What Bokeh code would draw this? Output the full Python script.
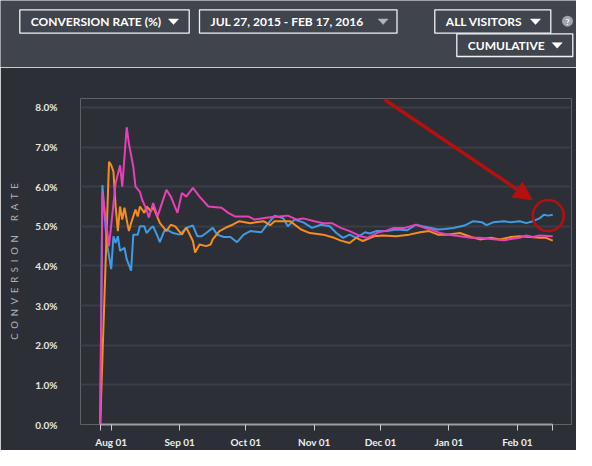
import pandas as pd
from bokeh.plotting import figure
from bokeh.layouts import column
from bokeh.models import Range1d, FixedTicker, Arrow, NormalHead, Plot
from bokeh.core.properties import value
from bokeh.embed import file_html
from bokeh.resources import INLINE

# ---------------- data ----------------
START = "2015-07-27"
END = "2016-02-17"

blue_days = [0, 1, 3, 5, 6, 7, 8, 9, 11, 12, 14, 15, 17, 18, 20, 21, 23, 24, 26, 27, 29, 30,
             33, 36, 39, 42, 44, 46, 48, 51, 53, 56, 59, 62, 65, 68, 73, 75, 79, 83, 85, 88,
             92, 96, 100, 104, 107, 110, 113, 116, 120, 122, 125, 130, 134, 139, 143, 146,
             150, 153, 156, 160, 165, 169, 173, 175, 178, 183, 186, 190, 193, 196, 199, 201,
             203, 205]
blue_vals = [0.0, 6.04, 4.58, 3.92, 4.75, 4.58, 4.75, 4.38, 4.46, 4.17, 3.88, 4.79, 4.79, 5.0,
             5.0, 4.83, 4.96, 5.0, 4.75, 4.6, 4.88, 4.92, 4.83, 4.79, 4.96, 5.02, 4.75, 4.75,
             4.83, 4.96, 4.79, 4.73, 4.73, 4.6, 4.79, 4.88, 4.85, 5.0, 5.27, 5.2, 5.0, 5.17,
             5.1, 4.96, 5.04, 5.0, 4.83, 4.71, 4.79, 4.71, 4.85, 4.82, 4.88, 4.88, 4.92, 4.9,
             5.04, 5.0, 4.96, 4.92, 4.93, 4.96, 5.02, 5.13, 5.1, 5.03, 5.1, 5.13, 5.1, 5.13,
             5.08, 5.13, 5.2, 5.29, 5.27, 5.29]

orange_days = [0, 4, 5, 6, 7, 8, 9, 10, 11, 12, 13, 14, 16, 17, 18, 20, 21, 23, 24, 26, 27,
               30, 32, 34, 37, 39, 42, 43, 45, 48, 50, 51, 54, 57, 60, 63, 68, 74, 77, 79, 86,
               91, 95, 101, 106, 109, 113, 116, 119, 124, 128, 134, 140, 145, 149, 153, 157,
               163, 168, 172, 177, 181, 186, 190, 195, 199, 202, 205]
orange_vals = [0.0, 6.63, 6.54, 6.38, 5.5, 4.88, 5.5, 5.17, 5.47, 5.17, 4.88, 5.08, 5.42, 5.25,
               5.5, 5.34, 5.5, 5.38, 5.5, 5.22, 5.09, 4.88, 5.04, 5.0, 4.79, 4.97, 4.63, 4.34,
               4.54, 4.5, 4.54, 4.67, 4.88, 4.97, 5.04, 5.13, 5.08, 5.13, 5.03, 5.13, 5.13,
               4.92, 4.83, 4.79, 4.71, 4.64, 4.58, 4.71, 4.63, 4.75, 4.77, 4.75, 4.79, 4.85,
               4.88, 4.79, 4.79, 4.83, 4.73, 4.67, 4.71, 4.67, 4.73, 4.75, 4.73, 4.71, 4.71,
               4.64]

pink_days = [0, 1, 4, 7, 9, 10, 12, 13, 15, 16, 18, 19, 21, 22, 24, 26, 27, 30, 32, 35, 37,
             39, 42, 45, 49, 55, 58, 61, 67, 70, 76, 81, 85, 89, 92, 97, 101, 105, 109, 113,
             118, 121, 126, 129, 133, 138, 143, 147, 150, 154, 158, 163, 168, 172, 177, 183,
             186, 190, 193, 196, 199, 205]
pink_vals = [0.0, 5.85, 4.5, 6.09, 6.54, 6.0, 7.5, 7.09, 6.5, 6.0, 5.87, 5.67, 5.42, 5.22,
             5.59, 5.25, 5.42, 5.92, 5.75, 5.34, 5.84, 5.75, 5.97, 5.75, 5.5, 5.47, 5.34, 5.25,
             5.25, 5.17, 5.22, 5.25, 5.27, 5.17, 5.2, 5.13, 5.08, 5.08, 4.96, 4.88, 4.75, 4.71,
             4.85, 4.88, 4.96, 4.96, 5.04, 4.96, 4.92, 4.83, 4.79, 4.75, 4.71, 4.71, 4.68,
             4.65, 4.68, 4.71, 4.77, 4.73, 4.77, 4.75]

x_tick_dates = ["2015-07-27", "2015-08-01", "2015-09-01", "2015-10-01", "2015-11-01",
                "2015-12-01", "2016-01-01", "2016-02-01", "2016-02-17"]
x_tick_labels = ["", "Aug 01", "Sep 01", "Oct 01", "Nov 01", "Dec 01", "Jan 01", "Feb 01", ""]
y_ticks = [0, 1, 2, 3, 4, 5, 6, 7, 8]
y_tick_labels = ["0.0%", "1.0%", "2.0%", "3.0%", "4.0%", "5.0%", "6.0%", "7.0%", "8.0%"]

y_axis_title = "CONVERSION RATE"
btn_labels = ["CONVERSION RATE (%)", "JUL 27, 2015 - FEB 17, 2016", "ALL VISITORS", "CUMULATIVE"]

# ---------------- style ----------------
HEADER_BG = "#40444c"
CHART_BG = "#2c2f36"
GRID = "#3b3e46"
BLUE = "#3f9be4"
ORANGE = "#f68d1f"
PINK = "#e840b6"
RED = "#b3100f"
FONT = "Lato"

start = pd.Timestamp(START)


def to_dates(days):
    return [start + pd.Timedelta(days=d) for d in days]


def ms(ts):
    return float(pd.Timestamp(ts).value // 10**6)


x_tick_ms = [ms(d) for d in x_tick_dates]
HAS_FRAME_ALIGN = "frame_align" in Plot.properties()

# ---------------- header ----------------
h = figure(width=576, height=67, x_range=Range1d(0, 576), y_range=Range1d(67, 0),
           toolbar_location=None, output_backend="svg", title=None,
           x_axis_location=None, y_axis_location=None, min_border=0,
           background_fill_color=HEADER_BG, border_fill_color=HEADER_BG,
           outline_line_color=None)
h.grid.grid_line_color = None

btn_left = [19.3, 199.0, 434.3, 456.3]
btn_right = [188.7, 396.5, 550.3, 572.3]
btn_top = [9.3, 9.3, 9.3, 33.3]
btn_bottom = [32.7, 32.7, 32.7, 56.0]
tri_off = [15.7, 13.9, 15.3, 15.6]
tri_col = ["#ffffff", "#b0b2b6", "#ffffff", "#ffffff"]

h.quad(left=btn_left, right=btn_right, top=btn_top, bottom=btn_bottom,
       fill_color=None, line_color="#f2f2f2", line_width=1.3)
mid = [(t + b) / 2 for t, b in zip(btn_top, btn_bottom)]
h.text(x=[l + 11 for l in btn_left], y=[m + 0.3 for m in mid], text=btn_labels,
       text_font=value(FONT), text_font_style="bold", text_font_size="12px",
       text_color="#ffffff", text_align="left", text_baseline="middle")
tri_x = [[r - o - 5, r - o + 5, r - o] for r, o in zip(btn_right, tri_off)]
tri_y = [[m - 2.5, m - 2.5, m + 3] for m in mid]
h.patches(xs=tri_x, ys=tri_y, fill_color=tri_col, line_color=tri_col, line_width=0.5)
h.scatter(x=[567], y=[20.7], marker="circle", size=11, fill_color="#a0a3a8", line_color=None)
h.text(x=[567], y=[21.0], text=["?"], text_font=value(FONT), text_font_style="bold",
       text_font_size="8px", text_color="#ffffff", text_align="center", text_baseline="middle")

# ---------------- chart ----------------
p = figure(width=576, height=383, x_axis_type="datetime", output_backend="svg",
           toolbar_location=None, title=None,
           x_range=Range1d(start - pd.Timedelta(days=8.92), start + pd.Timedelta(days=213.5)),
           y_range=Range1d(0, 8.225),
           min_border_left=80, min_border_right=5, min_border_top=31, min_border_bottom=23,
           background_fill_color=CHART_BG, border_fill_color=CHART_BG,
           outline_line_color=None)

p.line(to_dates(blue_days), blue_vals, line_color=BLUE, line_width=2)
p.line(to_dates(orange_days), orange_vals, line_color=ORANGE, line_width=2)
p.line(to_dates(pink_days), pink_vals, line_color=PINK, line_width=2)

# x axis
xa = p.xaxis[0]
xa.ticker = FixedTicker(ticks=x_tick_ms, minor_ticks=[])
xa.major_label_overrides = dict(zip(x_tick_ms, x_tick_labels))
xa.bounds = (x_tick_ms[0], x_tick_ms[-1])
xa.axis_line_color = "#9c9fa4"
xa.axis_line_width = 2
xa.major_tick_line_color = "#c9cbce"
xa.major_tick_out = 6
xa.major_tick_in = 0
xa.minor_tick_line_color = None
xa.major_label_text_font = FONT
xa.major_label_text_font_style = "bold"
xa.major_label_text_font_size = "10px"
xa.major_label_text_color = "#eeeeee"
xa.major_label_standoff = 5

# y axis
ya = p.yaxis[0]
ya.ticker = FixedTicker(ticks=y_ticks, minor_ticks=[])
ya.major_label_overrides = dict(zip(y_ticks, y_tick_labels))
ya.axis_line_color = None
ya.major_tick_line_color = None
ya.minor_tick_line_color = None
ya.major_label_text_font = FONT
ya.major_label_text_font_style = "bold"
ya.major_label_text_font_size = "10px"
ya.major_label_text_color = "#e6e6e6"
ya.major_label_standoff = 17
ya.axis_label = "\u2002\u2002\u2002".join("\u2002".join(w) for w in y_axis_title.split(" "))
ya.axis_label_text_font = FONT
ya.axis_label_text_font_style = "normal"
ya.axis_label_text_font_size = "9.5px"
ya.axis_label_text_color = "#aeb1b6"
ya.axis_label_standoff = 12

p.xgrid.grid_line_color = None
p.ygrid.grid_line_color = GRID
p.ygrid.grid_line_width = 2

# annotation: arrow and highlight circle around the latest blue values
hl_x = to_dates([blue_days[-2]])[0]
hl_y = blue_vals[-2]
p.scatter(x=[hl_x], y=[hl_y], marker="circle", size=31, fill_color=None,
          line_color=RED, line_width=2.5)
p.add_layout(Arrow(end=NormalHead(size=18, fill_color=RED, line_color=RED),
                   x_start=ms(start + pd.Timedelta(days=128.8)), y_start=8.2,
                   x_end=ms(start + pd.Timedelta(days=195.7)), y_end=5.67,
                   line_color=RED, line_width=3.5))

if HAS_FRAME_ALIGN:
    h.frame_align = False
    p.frame_align = False

layout = column(h, p, spacing=0)
open("out.html", "w").write(file_html(layout, INLINE))
